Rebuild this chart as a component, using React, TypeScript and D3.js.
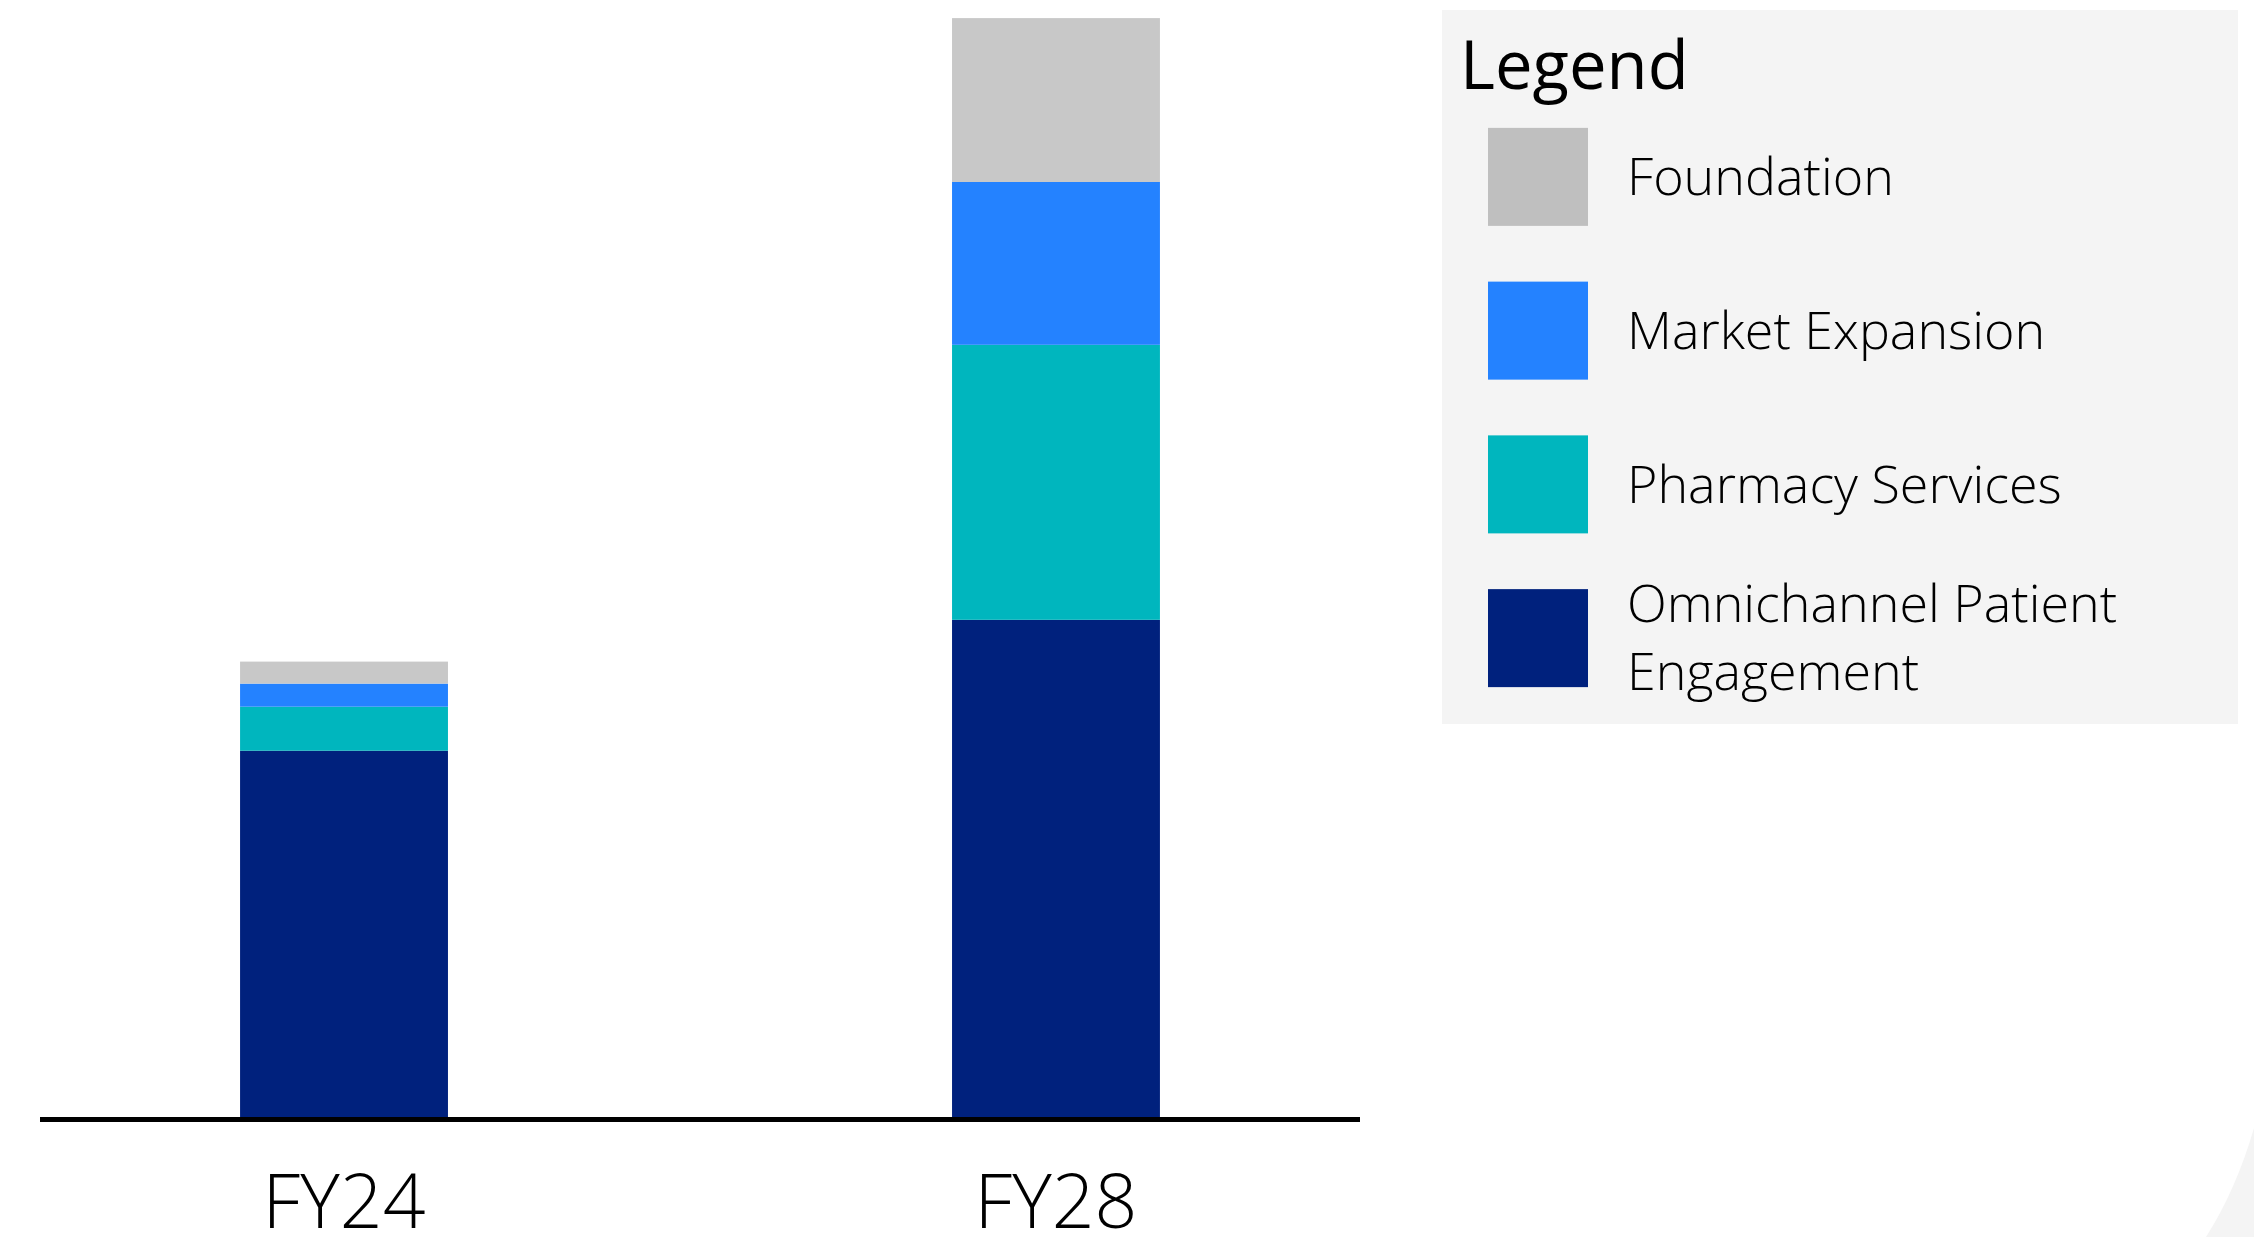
import React from "react";
import * as d3 from "d3";

const categories = ["FY24", "FY28"];
const seriesKeys = ["Omnichannel Patient Engagement", "Pharmacy Services", "Market Expansion", "Foundation"];
const omnichannel = [3.33, 4.52];
const pharmacy = [0.4, 2.5];
const market = [0.21, 1.48];
const foundation = [0.2, 1.49];
const legendItems = ["Foundation", "Market Expansion", "Pharmacy Services", "Omnichannel Patient Engagement"];
const barColors: Record<string, string> = {
  "Omnichannel Patient Engagement": "#00217D",
  "Pharmacy Services": "#00B6BE",
  "Market Expansion": "#2482FF",
  Foundation: "#C8C8C8",
};
const swatchColors: Record<string, string> = {
  ...barColors,
  Foundation: "#BFBFBF",
};

const W = 2254;
const H = 1237;
const FONT = "'Open Sans', sans-serif";

export default function App() {
  const rows = categories.map((c, i) => ({
    cat: c,
    "Omnichannel Patient Engagement": omnichannel[i],
    "Pharmacy Services": pharmacy[i],
    "Market Expansion": market[i],
    Foundation: foundation[i],
  }));
  const stacked = d3.stack<any>().keys(seriesKeys)(rows);
  const x = d3.scaleBand().domain(categories).range([40, 1360]).paddingInner(0.708).paddingOuter(0.281);
  const y = d3.scaleLinear().domain([0, 10]).range([1117, 17]);

  const legendY = d3.scaleBand().domain(legendItems).range([100, 715]);

  return (
    <svg width={W} height={H} style={{ position: "fixed", left: 0, top: 0, background: "#fff" }}>
      <rect x={0} y={0} width={W} height={H} fill="#ffffff" />
      <path d="M2254,1128 Q2236,1190 2206,1237 L2254,1237 Z" fill="#f4f4f4" />
      {stacked.map((s) => (
        <g key={s.key}>
          {s.map((d, i) => (
            <rect
              key={i}
              x={x(categories[i])}
              width={x.bandwidth()}
              y={y(d[1])}
              height={y(d[0]) - y(d[1])}
              fill={barColors[s.key]}
            />
          ))}
        </g>
      ))}
      <line x1={40} x2={1360} y1={1119.5} y2={1119.5} stroke="#000" strokeWidth={5} />
      {categories.map((c) => (
        <text
          key={c}
          x={(x(c) || 0) + x.bandwidth() / 2}
          y={1228}
          textAnchor="middle"
          fontFamily={FONT}
          fontWeight={300}
          fontSize={75}
          fill="#000"
        >
          {c}
        </text>
      ))}
      <rect x={1442} y={10} width={796} height={714} fill="#f4f4f4" />
      <text x={1460} y={89} fontFamily={FONT} fontWeight={500} fontSize={67} fill="#000">
        Legend
      </text>
      {legendItems.map((k) => {
        const cy = (legendY(k) || 0) + legendY.bandwidth() / 2;
        const lines = k === "Omnichannel Patient Engagement" ? ["Omnichannel Patient", "Engagement"] : [k];
        return (
          <g key={k}>
            <rect x={1488} y={cy - 49} width={100} height={98} fill={swatchColors[k]} />
            {lines.map((ln, j) => (
              <text
                key={j}
                x={1627}
                y={cy + (j - (lines.length - 1) / 2) * 68}
                dy="0.35em"
                fontFamily={FONT}
                fontWeight={300}
                fontSize={52}
                fill="#000"
              >
                {ln}
              </text>
            ))}
          </g>
        );
      })}
    </svg>
  );
}
